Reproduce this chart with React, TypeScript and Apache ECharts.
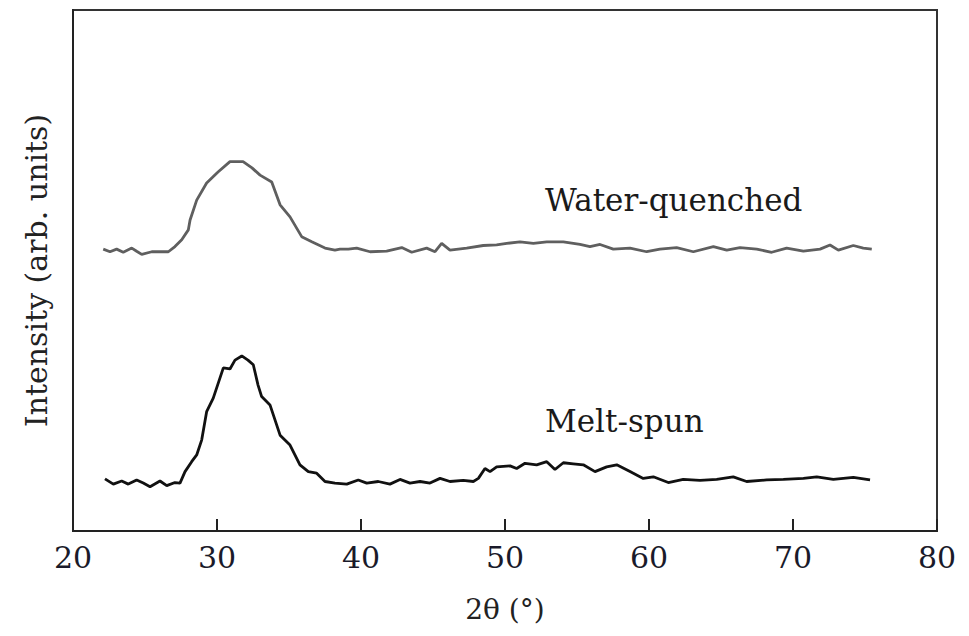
import React, { useEffect, useRef } from "react";
import * as echarts from "echarts";

// 2θ (degrees) and intensity (arb. units)
const waterQuenchedX = [22.1, 22.57, 23.03, 23.49, 24.08, 24.42, 24.77, 25.47, 26.16, 26.62, 27.08, 27.55, 28.01, 28.13, 28.59, 29.28, 30.07, 30.9, 31.81, 32.43, 32.99, 33.8, 34.38, 35.07, 35.88, 36.58, 37.5, 38.19, 38.54, 39.12, 39.7, 40.63, 41.78, 42.83, 43.52, 44.56, 45.14, 45.6, 46.18, 47.34, 48.49, 49.42, 50.12, 51.04, 51.97, 52.9, 54.05, 55.21, 55.9, 56.6, 57.52, 58.68, 59.84, 60.76, 61.92, 63.08, 64.47, 65.4, 66.32, 67.48, 68.52, 69.56, 70.72, 71.88, 72.57, 73.15, 74.19, 74.88, 75.47];
const waterQuenchedY = [54.1, 53.6, 54.1, 53.5, 54.3, 53.7, 53.1, 53.6, 53.6, 53.6, 54.6, 55.9, 57.8, 59.7, 63.5, 66.8, 68.9, 70.9, 70.9, 69.7, 68.3, 67.0, 62.6, 60.3, 56.5, 55.5, 54.3, 53.9, 54.1, 54.1, 54.3, 53.6, 53.7, 54.4, 53.5, 54.3, 53.6, 55.2, 53.9, 54.3, 54.8, 54.9, 55.2, 55.5, 55.2, 55.5, 55.5, 55.0, 54.6, 55.0, 54.1, 54.3, 53.6, 54.1, 54.4, 53.6, 54.6, 53.9, 54.4, 54.1, 53.5, 54.3, 53.7, 54.1, 54.9, 53.9, 54.8, 54.3, 54.1];

const meltSpunX = [22.22, 22.8, 23.38, 23.84, 24.42, 24.88, 25.35, 26.04, 26.51, 27.08, 27.43, 27.78, 28.24, 28.59, 28.94, 29.28, 29.74, 30.44, 30.9, 31.25, 31.72, 32.15, 32.52, 32.85, 33.1, 33.68, 34.38, 35.07, 35.76, 36.34, 36.92, 37.5, 38.19, 39.01, 39.81, 40.4, 41.2, 42.01, 42.71, 43.4, 44.1, 44.79, 45.49, 46.18, 47.1, 47.8, 48.15, 48.61, 48.96, 49.42, 50.35, 50.81, 51.39, 52.2, 52.9, 53.47, 54.05, 54.74, 55.44, 56.25, 57.06, 57.76, 58.68, 59.6, 60.3, 61.34, 62.38, 63.54, 64.7, 65.85, 66.78, 68.17, 69.33, 70.72, 71.65, 72.8, 74.19, 75.35];
const meltSpunY = [10.0, 9.0, 9.6, 9.0, 9.8, 9.2, 8.5, 9.6, 8.7, 9.3, 9.2, 11.4, 13.3, 14.6, 17.5, 22.9, 25.5, 31.3, 31.1, 32.8, 33.6, 32.8, 31.9, 28.0, 25.8, 24.2, 18.4, 16.5, 12.7, 11.4, 11.1, 9.5, 9.2, 9.0, 9.8, 9.2, 9.5, 9.0, 9.9, 9.2, 9.5, 9.2, 10.1, 9.5, 9.7, 9.5, 10.1, 12.0, 11.4, 12.3, 12.5, 12.0, 13.0, 12.7, 13.3, 11.8, 13.1, 12.9, 12.7, 11.4, 12.3, 12.7, 11.4, 10.1, 10.4, 9.3, 9.9, 9.7, 9.9, 10.4, 9.5, 9.8, 9.9, 10.1, 10.4, 9.9, 10.3, 9.8];

const xTicks = [20, 30, 40, 50, 60, 70, 80];
const seriesNames = ["Water-quenched", "Melt-spun"];

const FONT = "DejaVu Serif";

export default function App() {
  const ref = useRef<HTMLDivElement>(null);
  useEffect(() => {
    if (!ref.current) return;
    const chart = echarts.init(ref.current, null, { renderer: "svg" });
    const zip = (xs: number[], ys: number[]) => xs.map((x, i) => [x, ys[i]]);
    chart.setOption({
      animation: false,
      backgroundColor: "#ffffff",
      grid: {
        left: 73,
        right: 32,
        top: 10,
        bottom: 105,
        show: true,
        borderColor: "#333333",
        borderWidth: 2,
        backgroundColor: "transparent",
      },
      xAxis: {
        type: "value",
        min: xTicks[0],
        max: xTicks[xTicks.length - 1],
        interval: 10,
        name: "2θ (°)",
        nameLocation: "middle",
        nameGap: 64,
        nameTextStyle: { fontFamily: FONT, fontSize: 28, color: "#222" },
        axisLine: { show: true, onZero: false, lineStyle: { color: "#222", width: 2 } },
        axisTick: { show: true, inside: true, length: 12, lineStyle: { color: "#222", width: 2 } },
        axisLabel: { fontFamily: FONT, fontSize: 30, color: "#1a1a2a", margin: 11 },
        splitLine: { show: false },
      },
      yAxis: {
        type: "value",
        min: 0,
        max: 100,
        name: "Intensity (arb. units)",
        nameLocation: "middle",
        nameGap: 22,
        nameTextStyle: { fontFamily: FONT, fontSize: 30, color: "#222" },
        axisLine: { show: true, lineStyle: { color: "#222", width: 2 } },
        axisTick: { show: false },
        axisLabel: { show: false },
        splitLine: { show: false },
      },
      series: [
        {
          name: seriesNames[0],
          type: "line",
          data: zip(waterQuenchedX, waterQuenchedY),
          showSymbol: false,
          symbol: "none",
          lineStyle: { color: "#5f5f5f", width: 2.8 },
        },
        {
          name: seriesNames[1],
          type: "line",
          data: zip(meltSpunX, meltSpunY),
          showSymbol: false,
          symbol: "none",
          lineStyle: { color: "#111111", width: 2.8 },
        },
      ],
      graphic: [
        {
          type: "text",
          left: 545,
          top: 184,
          style: { text: seriesNames[0], fontFamily: FONT, fontSize: 31, fill: "#1a1a1a" },
        },
        {
          type: "text",
          left: 545,
          top: 405,
          style: { text: seriesNames[1], fontFamily: FONT, fontSize: 31, fill: "#1a1a1a" },
        },
      ],
    });
    return () => chart.dispose();
  }, []);
  return <div ref={ref} style={{ width: 969, height: 636, position: "absolute", left: 0, top: 0 }} />;
}
